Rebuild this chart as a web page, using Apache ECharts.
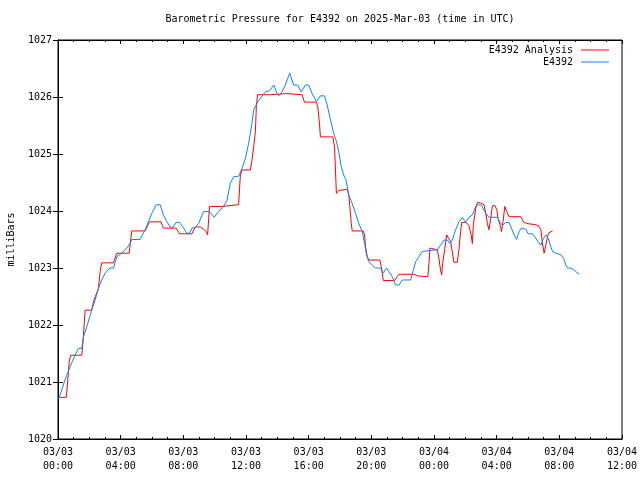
<!DOCTYPE html>
<html>
<head>
<meta charset="utf-8">
<script src="https://cdn.jsdelivr.net/npm/echarts@6/dist/echarts.min.js"></script>
<style>html,body{margin:0;padding:0;background:#fff}#c{width:640px;height:480px}</style>
</head>
<body>
<div id="c"></div>
<script>
// Hours since 2025-03-03 00:00 UTC
var obsHours = [0.06,0.24,0.45,0.77,1.09,1.30,1.52,1.62,1.84,2.15,2.37,2.58,2.79,3.01,3.32,3.54,3.75,4.07,4.39,4.60,4.71,5.24,5.56,5.77,5.99,6.27,6.52,6.73,6.95,7.16,7.33,7.54,7.76,8.01,8.23,8.40,8.55,8.76,8.97,9.29,9.67,9.97,10.25,10.57,10.79,11.00,11.21,11.53,11.75,11.96,12.17,12.38,12.49,12.70,12.92,13.24,13.51,13.77,13.98,14.09,14.30,14.51,14.79,15.04,15.30,15.52,15.79,16.00,16.22,16.50,16.75,17.01,17.18,17.39,17.60,17.77,17.92,18.08,18.24,18.39,18.56,18.78,18.99,19.20,19.42,19.57,19.69,19.84,20.06,20.27,20.59,20.76,20.97,21.12,21.34,21.55,21.76,21.98,22.51,22.68,22.83,23.04,23.25,24.21,24.42,24.64,24.85,25.02,25.17,25.38,25.59,25.81,26.02,26.23,26.45,26.66,26.81,27.03,27.30,27.51,28.05,28.22,28.37,28.58,28.79,28.94,29.11,29.28,29.43,29.58,29.86,30.01,30.29,30.43,30.65,30.82,30.99,31.14,31.29,31.46,31.57,31.78,32.10,32.27,32.42,32.52,32.74,32.95,33.27];
var obsPressure = [1020.72,1020.86,1021.04,1021.27,1021.47,1021.59,1021.59,1021.79,1021.97,1022.26,1022.44,1022.64,1022.79,1022.91,1023.00,1023.00,1023.20,1023.26,1023.35,1023.43,1023.50,1023.50,1023.67,1023.81,1023.96,1024.11,1024.11,1023.93,1023.81,1023.72,1023.71,1023.80,1023.80,1023.70,1023.61,1023.61,1023.70,1023.71,1023.78,1023.99,1023.99,1023.89,1023.99,1024.08,1024.19,1024.49,1024.60,1024.61,1024.75,1024.92,1025.19,1025.54,1025.77,1025.89,1025.98,1026.09,1026.11,1026.21,1026.06,1026.02,1026.09,1026.21,1026.42,1026.21,1026.21,1026.09,1026.21,1026.21,1026.06,1025.92,1026.02,1026.02,1025.86,1025.60,1025.36,1025.22,1025.04,1024.78,1024.63,1024.54,1024.28,1024.13,1023.96,1023.78,1023.64,1023.43,1023.23,1023.11,1023.05,1023.00,1023.00,1022.91,1023.00,1022.94,1022.85,1022.70,1022.70,1022.79,1022.79,1022.96,1023.11,1023.20,1023.29,1023.32,1023.40,1023.49,1023.49,1023.43,1023.49,1023.67,1023.81,1023.89,1023.80,1023.89,1023.93,1024.08,1024.11,1024.10,1023.96,1023.89,1023.89,1023.80,1023.75,1023.80,1023.80,1023.70,1023.58,1023.50,1023.64,1023.70,1023.68,1023.60,1023.60,1023.55,1023.46,1023.40,1023.52,1023.58,1023.52,1023.37,1023.29,1023.26,1023.23,1023.17,1023.05,1023.00,1023.00,1022.96,1022.89];

var anaHours = [0,0.53,0.66,0.72,0.81,1.52,1.62,1.73,2.15,2.30,2.58,2.69,2.79,3.54,3.75,4.54,4.71,5.56,5.84,6.57,6.73,7.54,7.76,8.55,8.76,9.08,9.29,9.46,9.55,9.67,10.47,10.53,11.53,11.59,11.64,11.75,12.28,12.38,12.49,12.60,12.66,12.74,13.51,13.55,14.62,14.72,15.58,15.73,16.48,16.58,16.69,16.75,17.54,17.65,17.71,17.77,17.92,17.99,18.46,18.56,18.63,18.72,18.78,19.48,19.57,19.63,19.74,19.84,20.54,20.63,20.70,20.76,21.48,21.66,21.76,22.72,22.97,23.61,23.68,23.74,24.21,24.31,24.42,24.49,24.55,24.68,24.81,24.89,25.06,25.17,25.27,25.49,25.59,25.70,25.77,26.02,26.23,26.37,26.45,26.51,26.66,26.77,26.98,27.19,27.30,27.41,27.51,27.62,27.73,27.88,28.01,28.09,28.22,28.31,28.41,28.52,28.64,28.79,29.54,29.71,29.92,30.50,30.71,30.82,30.92,31.03,31.14,31.25,31.35,31.57];
var anaPressure = [1020.73,1020.73,1021.15,1021.36,1021.47,1021.47,1021.79,1022.26,1022.26,1022.44,1022.64,1022.94,1023.09,1023.09,1023.26,1023.26,1023.65,1023.65,1023.81,1023.81,1023.70,1023.70,1023.60,1023.60,1023.72,1023.72,1023.68,1023.64,1023.58,1024.08,1024.08,1024.11,1024.11,1024.40,1024.63,1024.72,1024.72,1024.89,1025.13,1025.39,1025.83,1026.04,1026.04,1026.06,1026.06,1026.04,1026.04,1025.91,1025.91,1025.83,1025.54,1025.30,1025.30,1025.13,1024.72,1024.31,1024.36,1024.38,1024.38,1024.28,1024.08,1023.78,1023.65,1023.65,1023.58,1023.37,1023.20,1023.14,1023.14,1023.03,1022.91,1022.78,1022.78,1022.85,1022.89,1022.89,1022.86,1022.85,1023.08,1023.35,1023.32,1023.18,1022.96,1022.88,1023.08,1023.32,1023.58,1023.55,1023.46,1023.28,1023.10,1023.10,1023.32,1023.64,1023.80,1023.80,1023.75,1023.58,1023.43,1023.75,1024.04,1024.15,1024.14,1024.11,1023.96,1023.78,1023.67,1023.87,1024.09,1024.10,1024.02,1023.87,1023.75,1023.64,1023.82,1024.08,1023.99,1023.90,1023.90,1023.81,1023.78,1023.76,1023.73,1023.67,1023.44,1023.26,1023.40,1023.56,1023.62,1023.65];

var xTickDates = ['03/03','03/03','03/03','03/03','03/03','03/03','03/04','03/04','03/04','03/04'];
var xTickTimes = ['00:00','04:00','08:00','12:00','16:00','20:00','00:00','04:00','08:00','12:00'];
var seriesNames = ['E4392 Analysis','E4392'];
var titleText = 'Barometric Pressure for E4392 on 2025-Mar-03 (time in UTC)';

var FONT = 'DejaVu Sans Mono';
function pairs(xs, ys){ return xs.map(function(x,i){ return [x, ys[i]]; }); }

var chart = echarts.init(document.getElementById('c'), null, {renderer:'canvas'});
var xBase = {
  type:'value', min:0, max:36, interval:4,
  axisLine:{show:true, lineStyle:{color:'#000', width:1}},
  axisTick:{show:true, inside:true, length:4, lineStyle:{color:'#000'}},
  minorTick:{show:true, splitNumber:4, length:2, lineStyle:{color:'#000'}},
  splitLine:{show:false}, minorSplitLine:{show:false}
};
var yBase = {
  type:'value', min:1020, max:1027, interval:1,
  axisLine:{show:true, lineStyle:{color:'#000', width:1}},
  axisTick:{show:true, inside:true, length:5, lineStyle:{color:'#000'}},
  splitLine:{show:false}
};
var legendText = {fontFamily:FONT, fontSize:10, color:'#000', lineHeight:12, padding:[0,3,0,0]};
var option = {
  animation:false,
  backgroundColor:'#fff',
  graphic:[{type:'text', x:340, y:19, style:{text:titleText, align:'center', verticalAlign:'middle', font:'10px "'+FONT+'"', fill:'#000'}}],
  grid:{left:58, right:18, top:40, bottom:41, outerBoundsMode:'none', containLabel:false, show:true, borderColor:'#000', borderWidth:1, backgroundColor:'transparent'},
  legend:[
    {data:[seriesNames[0]], right:31, top:44, padding:0, orient:'vertical', align:'right', icon:'rect', itemWidth:28, itemHeight:1, textStyle:legendText},
    {data:[seriesNames[1]], right:31, top:56, padding:0, orient:'vertical', align:'right', icon:'rect', itemWidth:28, itemHeight:1, textStyle:legendText}
  ],
  xAxis:[
    Object.assign({}, xBase, {position:'bottom',
      axisLabel:{show:true, margin:6, fontFamily:FONT, fontSize:10, color:'#000', lineHeight:14, showMaxLabel:true, showMinLabel:true,
        formatter:function(v){ var i=Math.round(v/4); return xTickDates[i]+'\n'+xTickTimes[i]; }}}),
    Object.assign({}, xBase, {position:'top', axisLabel:{show:false}})
  ],
  yAxis:[
    Object.assign({}, yBase, {position:'left', name:'milliBars', nameLocation:'middle', nameGap:42, nameRotate:90,
      nameTextStyle:{fontFamily:FONT, fontSize:10, color:'#000'},
      axisLabel:{show:true, margin:6, fontFamily:FONT, fontSize:10, color:'#000', formatter:function(v){ return String(v); }}}),
    Object.assign({}, yBase, {position:'right', axisLabel:{show:false}})
  ],
  series:[
    {name:seriesNames[0], type:'line', xAxisIndex:0, yAxisIndex:0, data:pairs(anaHours, anaPressure), showSymbol:false, symbol:'none',
     lineStyle:{color:'#ff0000', width:1}, itemStyle:{color:'#ff0000'}},
    {name:seriesNames[1], type:'line', xAxisIndex:0, yAxisIndex:0, data:pairs(obsHours, obsPressure), showSymbol:false, symbol:'none',
     lineStyle:{color:'#0a84ff', width:1}, itemStyle:{color:'#0a84ff'}}
  ]
};
chart.setOption(option);
</script>
</body>
</html>
